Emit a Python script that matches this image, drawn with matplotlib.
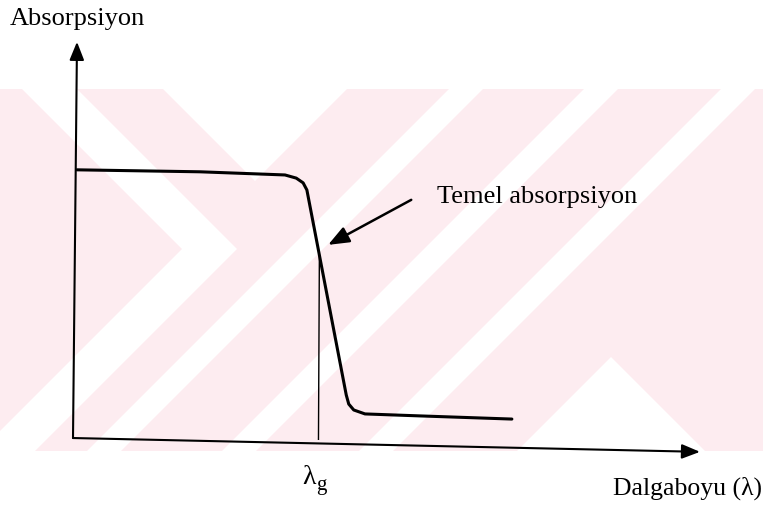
import matplotlib.pyplot as plt
from matplotlib.patches import Polygon, Rectangle

# -------------------------------------------------------
# DATA (schematic absorption edge, arbitrary units)
# -------------------------------------------------------

wavelength = [0.3, 20.0, 33.6, 35.4, 36.5, 37.1, 43.4, 43.8, 44.6, 46.4, 55.2, 69.9]
absorption = [68.4, 67.9, 67.1, 66.3, 65.1, 63.3, 11.4, 9.1, 7.6, 6.6, 6.1, 5.3]

lambda_g = 39.1           # band gap wavelength
lambda_g_top = 46.8       # where the marker line meets the curve

y_label = "Absorpsiyon"
x_label = "Dalgaboyu (λ)"
edge_label = "Temel absorpsiyon"

# -------------------------------------------------------
# FIGURE
# -------------------------------------------------------

plt.rcParams['font.family'] = ['Liberation Serif', 'DejaVu Serif']

W, H = 763, 509
fig = plt.figure(figsize=(W / 100, H / 100), dpi=100)

# faint pink watermark in the background (pixel coordinates)
bg = fig.add_axes([0, 0, 1, 1])
bg.set_xlim(0, W)
bg.set_ylim(H, 0)
bg.axis("off")
pink = "#fdecf0"
bg.add_patch(Rectangle((0, 89), W, 362, color=pink, lw=0))
white_shapes = [
    [(22, 89), (77, 89), (237, 249), (35, 451), (-20, 451), (182, 249)],
    [(163, 89), (347, 89), (255, 181)],
    [(517, 451), (611, 357), (705, 451)],
]
for x0 in [449, 584, 721]:
    white_shapes.append([(x0, 89), (x0 + 34, 89), (x0 + 34 - 362, 451), (x0 - 362, 451)])
for pts in white_shapes:
    bg.add_patch(Polygon(pts, closed=True, color="white", lw=0))

# main schematic axes
ax = fig.add_axes([75 / W, 1 - 440 / H, 625 / W, 395 / H])
ax.set_xlim(0, 100)
ax.set_ylim(0, 100)
ax.axis("off")
ax.patch.set_alpha(0)

ax.plot(wavelength, absorption, color="black", lw=2.2,
        solid_joinstyle="round", solid_capstyle="round")
ax.plot([lambda_g, lambda_g - 0.15], [lambda_g_top, -1.3], color="black", lw=1.0)

arrow = dict(arrowstyle="-|>,head_length=0.55,head_width=0.22",
             mutation_scale=20, color="black", lw=1.5, shrinkA=0, shrinkB=0)

# axes arrows
ax.annotate("", xy=(0.32, 100.8), xytext=(-0.32, 0.5),
            arrowprops=arrow, annotation_clip=False)
ax.annotate("", xy=(100.0, -3.0), xytext=(-0.32, 0.5),
            arrowprops=arrow, annotation_clip=False)

# pointer to the absorption edge
ax.annotate("", xy=(40.5, 49.4), xytext=(53.8, 60.8),
            arrowprops=dict(arrow, lw=1.8, mutation_scale=23), annotation_clip=False)

# texts
fs = 19
fig.text(10 / W, 1 - 25 / H, y_label, fontsize=fs, va="baseline")
fig.text(437 / W, 1 - 203 / H, edge_label, fontsize=fs, va="baseline")
fig.text(302 / W, 1 - 484 / H, "λ", fontsize=fs + 1, va="baseline")
fig.text(316 / W, 1 - 490 / H, "g", fontsize=fs - 4, va="baseline")
fig.text(613 / W, 1 - 495 / H, x_label, fontsize=18.5, va="baseline")

fig.savefig("out.png", dpi=100)
